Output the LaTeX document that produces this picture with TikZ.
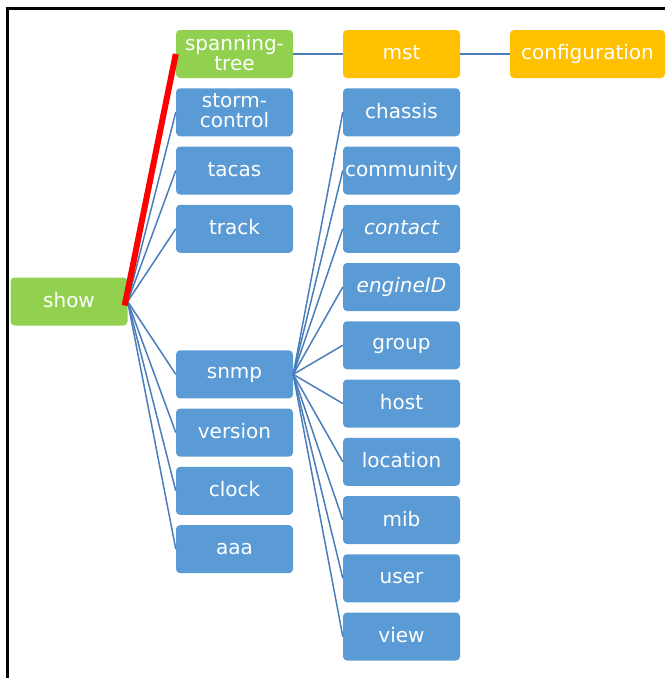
\documentclass[tikz,border=0pt]{standalone}
\usepackage{fontspec}
\setmainfont{DejaVu Sans}
\definecolor{cmdgreen}{HTML}{92D050}
\definecolor{cmdblue}{HTML}{5B9BD5}
\definecolor{cmdorange}{HTML}{FFC000}
\definecolor{linkblue}{HTML}{4A7EBB}
\newcommand{\cmdstrut}{\rule[-3pt]{0pt}{16pt}}
\tikzset{
    cmdbox/.style={rectangle, rounded corners=4pt, minimum width=117pt, minimum height=48pt,
        inner sep=0pt, text=white, align=center, font=\fontsize{20}{20}\selectfont,
        execute at begin node=\cmdstrut, execute at end node=\cmdstrut},
    link/.style={linkblue, line width=1.5pt},
}
\begin{document}
\begin{tikzpicture}[x=1pt,y=-1pt]
    \useasboundingbox (0,0) rectangle (665,678);
    %draw frame
    \draw[line width=3pt] (7.5,678) -- (7.5,8.5) -- (665,8.5);
    %draw root and first level
    \node[cmdbox,fill=cmdgreen] (show) at (69,301.5) {show};
    \node[cmdbox,fill=cmdgreen] (spanning) at (234.5,54) {spanning-\\tree};
    \foreach \name/\txt/\k in {storm/{storm-\\control}/1, tacas/tacas/2, track/track/3,
        snmp/snmp/5.5, version/version/6.5, clock/clock/7.5, aaa/aaa/8.5}
        {%
            \node[cmdbox,fill=cmdblue] (\name) at (234.5,{54+58.25*\k}) {\txt};
        }
    %draw second level
    \node[cmdbox,fill=cmdorange] (mst) at (401.5,54) {mst};
    \node[cmdbox,fill=cmdorange,minimum width=155pt] (config) at (587.5,54) {configuration};
    \foreach \name/\txt/\k in {chassis/chassis/1, community/community/2, contact/{\itshape contact}/3,
        engineID/{\itshape engineID}/4, group/group/5, host/host/6, location/location/7,
        mib/mib/8, user/user/9, view/view/10}
        {%
            \node[cmdbox,fill=cmdblue] (\name) at (401.5,{54+58.25*\k}) {\txt};
        }
    %draw links
    \foreach \name in {storm,tacas,track,snmp,version,clock,aaa}
        {%
            \draw[link] (show.east) -- (\name.west);
        }
    \foreach \name in {chassis,community,contact,engineID,group,host,location,mib,user,view}
        {%
            \draw[link] (snmp.east) -- (\name.west);
        }
    \draw[link] (spanning.east) -- (mst.west);
    \draw[link] (mst.east) -- (config.west);
    \draw[red,line width=6pt] ([xshift=-3pt,yshift=-4pt]show.east) -- (spanning.west);
\end{tikzpicture}
\end{document}
